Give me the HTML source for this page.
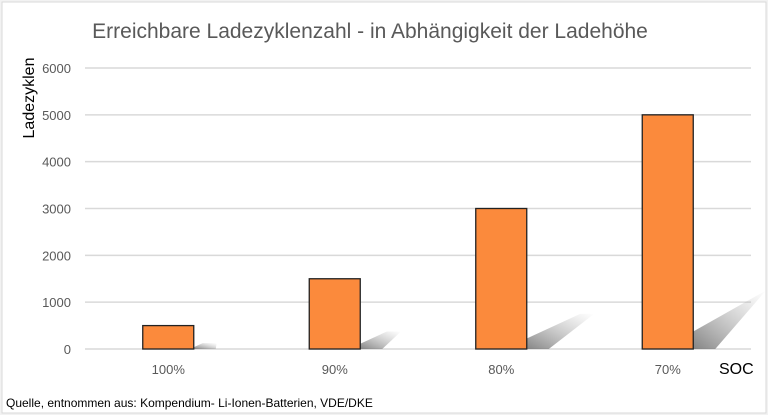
<!DOCTYPE html>
<html><head><meta charset="utf-8"><style>
html,body{margin:0;padding:0;background:#fff}
svg{display:block;font-family:"Liberation Sans",sans-serif}
</style></head><body>
<svg width="768" height="415" viewBox="0 0 768 415">
<defs>
<linearGradient id="sh" x1="0" y1="1" x2="1" y2="0">
<stop offset="0" stop-color="#777" stop-opacity="0.9"/>
<stop offset="1" stop-color="#aaa" stop-opacity="0"/>
</linearGradient>
</defs>
<rect x="0" y="0" width="768" height="415" fill="#f2f2f2"/>
<rect x="2" y="2" width="764" height="411" fill="#fff" stroke="#d9d9d9"/>
<text x="370" y="38" text-anchor="middle" font-size="21" fill="#595959">Erreichbare Ladezyklenzahl - in Abhängigkeit der Ladehöhe</text>
<text transform="translate(34,98) rotate(-90)" text-anchor="middle" font-size="16" fill="#000">Ladezyklen</text>
<text x="719" y="374" font-size="16" fill="#000">SOC</text>
<text x="6" y="407" font-size="12" fill="#000">Quelle, entnommen aus: Kompendium- Li-Ionen-Batterien, VDE/DKE</text>
<g id="grid"></g><g id="shadows"></g><g id="bars"></g><g id="labels"></g>
</svg>
<script>
const categories=["100%","90%","80%","70%"];
const values=[500,1500,3000,5000];
const ticks=[0,1000,2000,3000,4000,5000,6000];
const NS="http://www.w3.org/2000/svg";
const x0=85,x1=751,yTop=68,yBot=349,yMax=6000;
const y=v=>yBot-(v/yMax)*(yBot-yTop);
const band=(x1-x0)/categories.length;
const cx=i=>x0+band*(i+0.5);
function mk(t,a,p){const e=document.createElementNS(NS,t);for(const k in a)e.setAttribute(k,a[k]);p.appendChild(e);return e;}
const grid=document.getElementById('grid'),lab=document.getElementById('labels'),bars=document.getElementById('bars'),sh=document.getElementById('shadows');
ticks.forEach(t=>{
 const l=mk('line',{x1:x0,x2:x1,y1:y(t),y2:y(t),stroke:'#d9d9d9','stroke-width':1.5},grid);
 
 
 const tx=mk('text',{x:71,y:y(t)+5,'text-anchor':'end','font-size':13,fill:'#595959'},lab);
 tx.textContent=t;
 
 
});
const bw=51;
categories.forEach((c,i)=>{
 const h=yBot-y(values[i]);
 const xl=cx(i)-bw/2,xr=cx(i)+bw/2;
 const dy=h*0.25,dx=h*0.38;
 const p=mk('polygon',{points:`${xr},${yBot} ${xr},${yBot-Math.min(h,dy*0.3)} ${Math.min(xr+dx,766)},${yBot-dy} ${Math.min(xr+dx+14,766)},${yBot-dy}  ${xr+22},${yBot}`,fill:'url(#sh)'},sh);
 
 
 const r=mk('rect',{x:xl,y:y(values[i]),width:bw,height:h,fill:'#fb8a3c',stroke:'#222','stroke-width':1.3},bars);
 
 
 const t=mk('text',{x:cx(i),y:374,'text-anchor':'middle','font-size':13,fill:'#595959'},lab);
 t.textContent=c;
 
 
});
</script>
</body></html>
